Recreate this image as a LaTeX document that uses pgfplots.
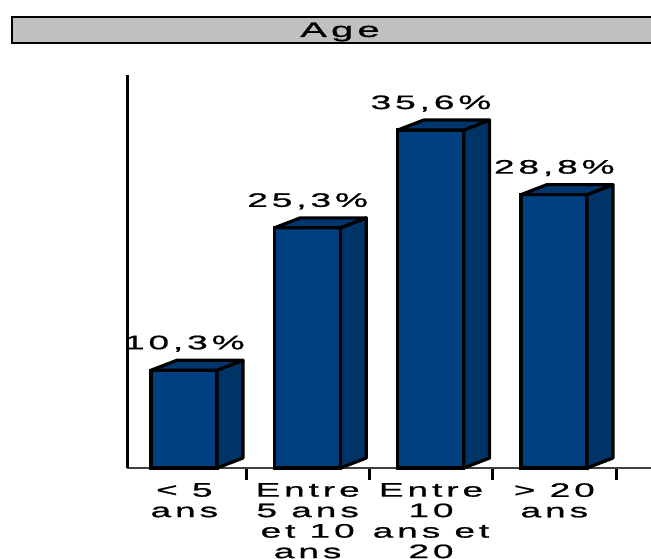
\documentclass[border=0pt]{standalone}
\usepackage{pgfplots}
\pgfplotsset{compat=1.18}
\usepackage{fontspec}
\setmainfont{Liberation Sans}[FakeStretch=1.9, LetterSpace=20, FakeBold=1]
\definecolor{front}{RGB}{0,64,128}
\definecolor{side}{RGB}{0,51,102}
\definecolor{topc}{RGB}{0,54,110}
\definecolor{boxgray}{RGB}{192,192,192}
\begin{document}
\begin{tikzpicture}
\path[use as bounding box] (0pt,0pt) rectangle (651pt,558pt);
\clip (0pt,0pt) rectangle (651pt,558pt);
\draw[fill=boxgray, line width=2pt] (12pt,515pt) rectangle (670pt,541pt);
\node[font=\fontsize{21}{24}\selectfont, inner sep=0pt, anchor=base] at (340pt,521pt) {Age};
\begin{axis}[
  at={(127pt,90pt)}, anchor=south west,
  scale only axis, width=526pt, height=393pt,
  xmin=-0.465, xmax=3.8, ymin=0, ymax=41.4,
  axis x line=bottom, axis y line=left,
  x axis line style={-, line width=1.5pt, draw=black!75},
  y axis line style={-, line width=3pt, draw=black},
  ytick=\empty,
  xtick={0,1,2,3},
  xticklabels={{< 5\\ans},{Entre\\5 ans\\et 10\\ans},{Entre\\10\\ans et\\20},{> 20\\ans}},
  major tick length=0pt,
  major x tick style={draw=none},
  minor xtick={0.5,1.5,2.5,3.5},
  minor tick length=12pt, tick align=outside,
  minor x tick style={line width=3pt, draw=black},
  xticklabel style={font=\fontsize{19.5}{20.5}\selectfont, align=center, anchor=north, inner sep=0pt, yshift=-15pt},
  /pgf/number format/assume math mode=true,
  clip=false,
]
\addplot[ybar, bar width=0.535, bar shift=-0.0025, fill=front, draw=black, line width=3.2pt,
  nodes near coords={\pgfmathprintnumber[fixed, fixed zerofill, precision=1, use comma, assume math mode=true]{\pgfplotspointmeta}\%},
  every node near coord/.append style={font=\fontsize{19.5}{22}\selectfont, anchor=base, inner sep=0pt, yshift=21pt, black}]
  coordinates {(0,10.3) (1,25.3) (2,35.6) (3,28.8)};
% side faces
\addplot[fill=side, draw=black, line width=3.2pt, line join=round] coordinates {(0.265,0) (0.475,1.05) (0.475,11.35) (0.265,10.3)} --cycle;
\addplot[fill=side, draw=black, line width=3.2pt, line join=round] coordinates {(1.265,0) (1.475,1.05) (1.475,26.35) (1.265,25.3)} --cycle;
\addplot[fill=side, draw=black, line width=3.2pt, line join=round] coordinates {(2.265,0) (2.475,1.05) (2.475,36.65) (2.265,35.6)} --cycle;
\addplot[fill=side, draw=black, line width=3.2pt, line join=round] coordinates {(3.265,0) (3.475,1.05) (3.475,29.85) (3.265,28.8)} --cycle;
% top faces
\addplot[fill=topc, draw=black, line width=3.2pt, line join=round] coordinates {(-0.27,10.3) (-0.06,11.35) (0.475,11.35) (0.265,10.3)} --cycle;
\addplot[fill=topc, draw=black, line width=3.2pt, line join=round] coordinates {(0.73,25.3) (0.94,26.35) (1.475,26.35) (1.265,25.3)} --cycle;
\addplot[fill=topc, draw=black, line width=3.2pt, line join=round] coordinates {(1.73,35.6) (1.94,36.65) (2.475,36.65) (2.265,35.6)} --cycle;
\addplot[fill=topc, draw=black, line width=3.2pt, line join=round] coordinates {(2.73,28.8) (2.94,29.85) (3.475,29.85) (3.265,28.8)} --cycle;
\end{axis}
\end{tikzpicture}
\end{document}
